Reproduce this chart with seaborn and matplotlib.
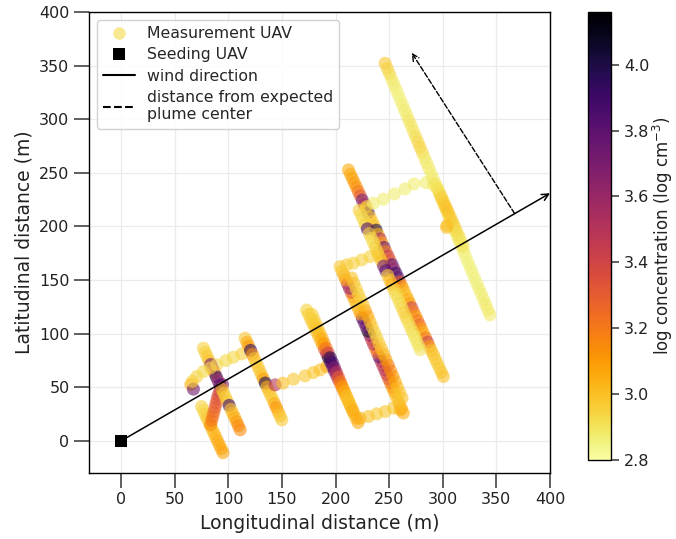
import numpy as np
import pandas as pd
import matplotlib
matplotlib.use("Agg")
import matplotlib.pyplot as plt
from matplotlib.lines import Line2D
import matplotlib.colors as mcolors
import seaborn as sns

# ---------------- data ----------------
# lower-left flight leg
t1_x = [75.0, 76.7, 78.3, 80.0, 81.7, 83.3, 85.0, 86.7, 88.3, 90.0, 91.7, 93.3, 95.0]
t1_y = [32.0, 28.4, 24.8, 21.3, 17.7, 14.1, 10.5, 6.9, 3.3, -0.3, -3.9, -7.4, -11.0]
t1_c = [2.95, 2.93, 2.95, 2.97, 2.98, 3.0, 3.0, 3.02, 3.03, 3.05, 3.05, 3.07, 3.08]

# red curved segment
t2_x = [83.5, 84.5, 85.5, 86.5, 87.5, 88.5, 89.5, 90.5, 91.8, 93.0, 94.5]
t2_y = [15.0, 19.0, 23.0, 27.0, 31.0, 35.0, 39.0, 42.5, 46.0, 49.5, 52.5]
t2_c = [3.15, 3.2, 3.22, 3.25, 3.28, 3.3, 3.32, 3.35, 3.4, 3.5, 3.65]

# upper-left flight leg
t3_x = [76.7, 78.4, 80.1, 81.8, 83.6, 85.3, 87.0, 88.7, 90.4, 92.1, 93.9, 95.6, 97.3, 99.0,
        100.7, 102.4, 104.1, 105.9, 107.6, 109.3, 111.0]
t3_y = [86.4, 82.6, 78.8, 75.0, 71.2, 67.4, 63.6, 59.8, 56.0, 52.2, 48.4, 44.5, 40.7, 36.9,
        33.1, 29.3, 25.5, 21.7, 17.9, 14.1, 10.3]
t3_c = [2.95, 2.95, 2.97, 3.0, 3.7, 3.5, 3.3, 3.95, 3.6, 3.8, 3.0, 2.97, 2.95, 2.97,
        3.9, 3.0, 3.02, 3.05, 3.1, 3.15, 3.15]

# connector left
t4_x = [65.0, 67.4, 66.5, 70.6, 76.7, 83.0, 89.2, 97.6, 104.7, 112.5]
t4_y = [52.5, 48.2, 55.5, 60.0, 64.6, 67.8, 70.9, 74.9, 78.0, 81.1]
t4_c = [3.05, 3.75, 2.95, 2.95, 2.93, 2.93, 2.93, 2.93, 2.93, 2.95]

# track B
t5_x = [115.6, 117.3, 119.0, 120.7, 122.4, 124.2, 125.9, 127.6, 129.3, 131.0, 132.7, 134.4,
        136.1, 137.8, 139.5, 141.3, 143.0, 144.7, 146.4, 148.1, 149.8]
t5_y = [95.8, 92.0, 88.2, 84.4, 80.6, 76.7, 72.9, 69.1, 65.3, 61.5, 57.7, 53.9,
        50.1, 46.3, 42.5, 38.7, 34.9, 31.1, 27.3, 23.4, 19.6]
t5_c = [2.97, 3.05, 3.1, 3.95, 3.15, 3.0, 2.97, 2.97, 2.97, 3.0, 3.1, 4.0,
        3.05, 3.0, 2.97, 2.97, 3.05, 3.12, 3.05, 3.0, 2.98]

# connector B -> C
t6_x = [143.6, 150.8, 160.7, 171.6, 179.3, 185.5, 191.8]
t6_y = [52.2, 53.8, 57.5, 60.6, 63.7, 66.2, 69.3]
t6_c = [3.5, 3.0, 2.97, 2.97, 2.98, 3.0, 3.05]

# track C (two strands)
c1_x = [173.0, 174.8, 176.7, 178.5, 180.4, 182.2, 184.1, 185.9, 187.8, 189.6, 191.5, 193.3, 195.2,
        197.0, 198.8, 200.7, 202.5, 204.4, 206.2, 208.1, 209.9, 211.8, 213.6, 215.5, 217.3, 219.2, 221.0]
c1_y = [122.0, 118.0, 113.9, 109.9, 105.8, 101.8, 97.8, 93.7, 89.7, 85.6, 81.6, 77.6, 73.5,
        69.5, 65.4, 61.4, 57.4, 53.3, 49.3, 45.2, 41.2, 37.2, 33.1, 29.1, 25.0, 21.0, 17.0]
c1_c = [2.95, 2.95, 2.97, 2.97, 2.98, 3.0, 3.0, 3.02, 3.05, 3.3, 3.45, 4.05, 3.9,
        3.75, 3.8, 3.6, 3.4, 3.2, 3.15, 3.1, 3.05, 3.05, 3.0, 3.0, 3.02, 3.05, 3.05]
c2_x = [178.0, 179.9, 181.8, 183.7, 185.6, 187.5, 189.4, 191.3, 193.2, 195.1, 197.0, 198.9, 200.8,
        202.7, 204.6, 206.5, 208.4, 210.3, 212.2, 214.1, 216.0]
c2_y = [118.0, 113.5, 109.0, 104.5, 100.0, 95.5, 91.0, 86.5, 82.0, 77.5, 73.0, 68.5, 64.0,
        59.5, 55.0, 50.5, 46.0, 41.5, 37.0, 32.5, 28.0]
c2_c = [2.95, 2.95, 2.97, 3.0, 3.0, 3.05, 3.1, 3.2, 3.4, 3.95, 3.85, 3.7, 3.5,
        3.3, 3.2, 3.1, 3.05, 3.0, 3.0, 3.02, 3.05]

# bottom connector
t8_x = [222.8, 230.6, 238.4, 246.2, 253.9, 260.1]
t8_y = [21.1, 22.7, 25.2, 27.3, 30.5, 28.9]
t8_c = [3.05, 3.0, 2.98, 2.97, 2.98, 3.0]

# track D (two strands)
d1_x = [263.2, 261.5, 259.7, 258.0, 256.3, 254.5, 252.8, 251.1, 249.3, 247.6, 245.9, 244.1,
        242.4, 240.6, 238.9, 237.2, 235.4, 233.7, 232.0, 230.2, 228.5, 226.8, 225.0, 223.3,
        221.6, 219.8, 218.1, 216.3, 214.6, 212.9, 211.1, 209.4, 207.7, 205.9, 204.2]
d1_y = [26.0, 30.0, 34.1, 38.1, 42.1, 46.1, 50.1, 54.1, 58.1, 62.1, 66.2, 70.2,
        74.2, 78.2, 82.2, 86.2, 90.2, 94.2, 98.3, 102.3, 106.3, 110.3, 114.3, 118.3,
        122.3, 126.3, 130.3, 134.4, 138.4, 142.4, 146.4, 150.4, 154.4, 158.4, 162.5]
d1_c = [3.05, 3.05, 3.02, 3.0, 3.0, 3.05, 3.1, 3.2, 3.3, 3.4, 3.5, 3.45,
        3.5, 3.8, 3.3, 3.2, 3.5, 3.4, 3.6, 4.05, 3.75, 3.75, 3.8, 3.1,
        3.05, 3.0, 3.0, 3.05, 3.3, 3.6, 3.5, 3.1, 3.05, 3.0, 2.97]
d2_x = [262.0, 259.9, 257.7, 255.6, 253.5, 251.3, 249.2, 247.0, 244.9, 242.8, 240.6, 238.5,
        236.4, 234.2, 232.1, 230.0, 227.8, 225.7, 223.5, 221.4, 219.3, 217.1, 215.0]
d2_y = [40.0, 45.1, 50.2, 55.3, 60.4, 65.5, 70.5, 75.6, 80.7, 85.8, 90.9, 96.0,
        101.1, 106.2, 111.3, 116.4, 121.5, 126.5, 131.6, 136.7, 141.8, 146.9, 152.0]
d2_c = [3.0, 2.98, 3.0, 3.05, 3.1, 3.15, 3.2, 3.1, 3.05, 3.0, 2.97, 2.95,
        2.95, 2.97, 3.0, 3.05, 3.1, 3.0, 2.97, 2.95, 2.95, 2.97, 3.0]

# connector D top -> E
t10_x = [210.4, 216.6, 224.4, 232.2, 239.9]
t10_y = [164.1, 165.7, 168.8, 171.8, 175.0]
t10_c = [2.97, 2.95, 2.95, 2.95, 2.97]

# track E (two strands)
e1_x = [212.0, 213.8, 215.7, 217.5, 219.4, 221.2, 223.1, 224.9, 226.8, 228.6, 230.4, 232.3,
        234.1, 236.0, 237.8, 239.7, 241.5, 243.3, 245.2, 247.0, 248.9, 250.7, 252.6, 254.4,
        256.3, 258.1, 259.9, 261.8, 263.6, 265.5, 267.3, 269.2, 271.0, 272.8, 274.7, 276.5,
        278.4, 280.2, 282.1, 283.9, 285.8, 287.6, 289.4, 291.3, 293.1, 295.0, 296.8, 298.7, 300.5]
e1_y = [252.7, 248.7, 244.7, 240.7, 236.6, 232.6, 228.6, 224.6, 220.6, 216.6, 212.6, 208.5,
        204.5, 200.5, 196.5, 192.5, 188.5, 184.5, 180.4, 176.4, 172.4, 168.4, 164.4, 160.4,
        156.4, 152.3, 148.3, 144.3, 140.3, 136.3, 132.3, 128.3, 124.2, 120.2, 116.2, 112.2,
        108.2, 104.2, 100.2, 96.1, 92.1, 88.1, 84.1, 80.1, 76.1, 72.0, 68.0, 64.0, 60.0]
e1_c = [3.05, 3.05, 3.08, 3.1, 3.12, 3.2, 3.3, 3.7, 3.55, 3.0, 3.9, 3.0,
        2.97, 3.0, 4.0, 3.05, 3.5, 3.1, 3.75, 3.2, 3.45, 3.3, 3.8, 3.6,
        3.9, 3.8, 3.3, 3.1, 3.05, 3.0, 3.05, 3.1, 3.4, 3.2, 3.1, 3.2,
        3.25, 3.1, 3.05, 3.2, 3.4, 3.1, 3.0, 3.0, 2.98, 2.97, 2.97, 2.98, 3.0]
e2_x = [222.0, 223.9, 225.8, 227.7, 229.6, 231.5, 233.4, 235.3, 237.2, 239.1, 241.0, 242.9,
        244.8, 246.7, 248.6, 250.5, 252.4, 254.3, 256.2, 258.1, 260.0, 261.9, 263.8, 265.7,
        267.6, 269.5, 271.4, 273.3, 275.2, 277.1, 279.0]
e2_y = [215.0, 210.7, 206.3, 202.0, 197.7, 193.3, 189.0, 184.7, 180.3, 176.0, 171.7, 167.3,
        163.0, 158.7, 154.3, 150.0, 145.7, 141.3, 137.0, 132.7, 128.3, 124.0, 119.7, 115.3,
        111.0, 106.7, 102.3, 98.0, 93.7, 89.3, 85.0]
e2_c = [2.95, 2.93, 2.92, 2.95, 3.85, 2.95, 2.93, 2.92, 2.95, 2.95, 2.97, 3.0,
        3.7, 3.8, 2.97, 3.0, 3.05, 2.95, 2.93, 2.92, 2.92, 2.93, 2.95, 2.95,
        2.93, 2.92, 2.92, 2.9, 2.9, 2.9, 2.9]

# loop connector E -> long leg
t13_x = [229.0, 235.3, 244.6, 254.8, 264.8, 273.2, 284.4, 291.2]
t13_y = [218.4, 221.6, 225.4, 230.3, 235.0, 239.6, 240.8, 238.7]
t13_c = [2.95, 2.87, 2.87, 2.87, 2.87, 2.87, 2.87, 2.88]

# long pale leg (two strands)
l1_x = [246.2, 248.2, 250.3, 252.3, 254.4, 256.4, 258.4, 260.5, 262.5, 264.5, 266.6, 268.6,
        270.7, 272.7, 274.7, 276.8, 278.8, 280.8, 282.9, 284.9, 287.0, 289.0, 291.0, 293.1,
        295.1, 297.1, 299.2, 301.2, 303.3, 305.3, 307.3, 309.4, 311.4, 313.4, 315.5, 317.5,
        319.6, 321.6, 323.6, 325.7, 327.7, 329.7, 331.8, 333.8, 335.9, 337.9, 339.9, 342.0, 344.0]
l1_y = [352.2, 347.3, 342.4, 337.5, 332.6, 327.8, 322.9, 318.0, 313.1, 308.2, 303.3, 298.4,
        293.5, 288.6, 283.7, 278.8, 273.9, 269.1, 264.2, 259.3, 254.4, 249.5, 244.6, 239.7,
        234.8, 229.9, 225.0, 220.1, 215.2, 210.3, 205.4, 200.6, 195.7, 190.8, 185.9, 181.0,
        176.1, 171.2, 166.3, 161.4, 156.5, 151.6, 146.7, 141.8, 137.0, 132.1, 127.2, 122.3, 117.5]
l1_c = [2.97, 2.95, 2.93, 2.9, 2.88, 2.87, 2.86, 2.86, 2.87, 2.88, 2.88, 2.9,
        2.9, 2.9, 2.92, 2.93, 2.95, 2.93, 2.9, 2.88, 2.88, 2.87, 2.88, 2.9,
        2.92, 2.95, 2.97, 2.95, 2.93, 2.92, 2.9, 2.9, 2.9, 2.88, 2.88, 2.87,
        2.87, 2.86, 2.86, 2.86, 2.86, 2.86, 2.86, 2.87, 2.87, 2.87, 2.88, 2.88, 2.88]
l2_x = [295.0, 297.0, 299.0, 301.0, 303.0, 305.0, 307.0, 309.0, 311.0, 313.0, 315.0, 317.0,
        319.0, 303.5, 304.0]
l2_y = [236.0, 231.5, 227.0, 222.5, 218.0, 213.5, 209.0, 204.5, 200.0, 195.5, 191.0, 186.5,
        182.0, 199.0, 201.0]
l2_c = [2.9, 2.92, 2.95, 2.97, 3.0, 3.0, 2.98, 2.97, 2.95, 2.93, 2.92, 2.9,
        2.9, 3.0, 3.0]

seed_x = [0.0]
seed_y = [0.0]

wind_angle_deg = 30.0
wind_end_x = 400.0
dist_start = (367.0, 212.0)
dist_end = (271.0, 362.0)

cbar_min, cbar_max = 2.8, 4.16
cbar_ticks = [2.8, 3.0, 3.2, 3.4, 3.6, 3.8, 4.0]
axis_ticks = [0, 50, 100, 150, 200, 250, 300, 350, 400]

# ---------------- build table ----------------
xs = [t1_x, t2_x, t3_x, t4_x, t5_x, t6_x, c1_x, c2_x, t8_x, d1_x, d2_x, t10_x, e1_x, e2_x, t13_x, l1_x, l2_x]
ys = [t1_y, t2_y, t3_y, t4_y, t5_y, t6_y, c1_y, c2_y, t8_y, d1_y, d2_y, t10_y, e1_y, e2_y, t13_y, l1_y, l2_y]
cs = [t1_c, t2_c, t3_c, t4_c, t5_c, t6_c, c1_c, c2_c, t8_c, d1_c, d2_c, t10_c, e1_c, e2_c, t13_c, l1_c, l2_c]
df = pd.DataFrame({
    "x": np.concatenate(xs),
    "y": np.concatenate(ys),
    "c": np.concatenate(cs),
})

# ---------------- style ----------------
sns.set_theme(style="white")
plt.rcParams["font.family"] = ["DejaVu Sans"]
plt.rcParams["axes.edgecolor"] = "black"
plt.rcParams["axes.linewidth"] = 1.0

fig = plt.figure(figsize=(6.76, 5.39), dpi=100)
ax = fig.add_axes([89 / 676, 66 / 539, 461 / 676, 461 / 539])
cax = fig.add_axes([588 / 676, 79 / 539, 23 / 676, 448 / 539])

cmap = plt.get_cmap("inferno_r")
norm = mcolors.Normalize(vmin=cbar_min, vmax=cbar_max)

sns.scatterplot(data=df, x="x", y="y", hue="c", palette="inferno_r",
                hue_norm=(cbar_min, cbar_max), s=88, alpha=0.6,
                linewidth=0, legend=False, ax=ax, zorder=3)
sns.scatterplot(x=seed_x, y=seed_y, marker="s", s=78, color="black",
                linewidth=0, legend=False, ax=ax, zorder=5)

wind_end_y = wind_end_x * np.tan(np.radians(wind_angle_deg))
ax.annotate("", xy=(wind_end_x, wind_end_y), xytext=(seed_x[0], seed_y[0]),
            arrowprops=dict(arrowstyle="->", color="black", lw=1.1,
                            shrinkA=0, shrinkB=0, mutation_scale=12), zorder=4)
ax.annotate("", xy=dist_end, xytext=dist_start,
            arrowprops=dict(arrowstyle="->", color="black", lw=1.0, ls="--",
                            shrinkA=0, shrinkB=0, mutation_scale=12), zorder=4)

ax.set_xlim(-30, 400)
ax.set_ylim(-30, 400)
ax.set_xticks(axis_ticks)
ax.set_yticks(axis_ticks)
ax.grid(True, color="#ebebeb", lw=0.9, zorder=0)
ax.set_axisbelow(True)
for sp in ax.spines.values():
    sp.set_visible(True)
    sp.set_color("black")
    sp.set_linewidth(1.0)
ax.tick_params(axis="both", which="major", direction="out", length=11, width=1.2,
               color="#444444", labelsize=11.5, labelcolor="#222222", pad=3,
               bottom=True, left=True)
ax.set_xlabel("Longitudinal distance (m)", fontsize=13.5, color="#222222", labelpad=5)
ax.set_ylabel("Latitudinal distance (m)", fontsize=13.5, color="#222222", labelpad=4)

pale = cmap(norm(2.93))
handles = [
    Line2D([], [], ls="", marker="o", markersize=9, markerfacecolor=pale,
           markeredgewidth=0, alpha=0.6, label="Measurement UAV"),
    Line2D([], [], ls="", marker="s", markersize=9, markerfacecolor="black",
           markeredgewidth=0, label="Seeding UAV"),
    Line2D([], [], color="black", lw=1.5, label="wind direction"),
    Line2D([], [], color="black", lw=1.5, ls="--", label="distance from expected\nplume center"),
]
leg = ax.legend(handles=handles, loc="upper left", fontsize=11.3, frameon=True,
                framealpha=0.9, edgecolor="#cccccc", borderaxespad=0.5,
                handletextpad=0.8, labelspacing=0.4)
leg.set_zorder(10)

sm = matplotlib.cm.ScalarMappable(norm=norm, cmap=cmap)
sm.set_array([])
cb = fig.colorbar(sm, cax=cax, ticks=cbar_ticks)
cb.outline.set_edgecolor("black")
cb.outline.set_linewidth(1.0)
cax.tick_params(direction="out", length=6, width=1.2, color="#444444",
                labelsize=11.5, labelcolor="#222222", right=True)
cb.set_label("log concentration (log cm$^{-3}$)", fontsize=12, color="#222222", labelpad=1)

fig.savefig("out.png", dpi=100)
